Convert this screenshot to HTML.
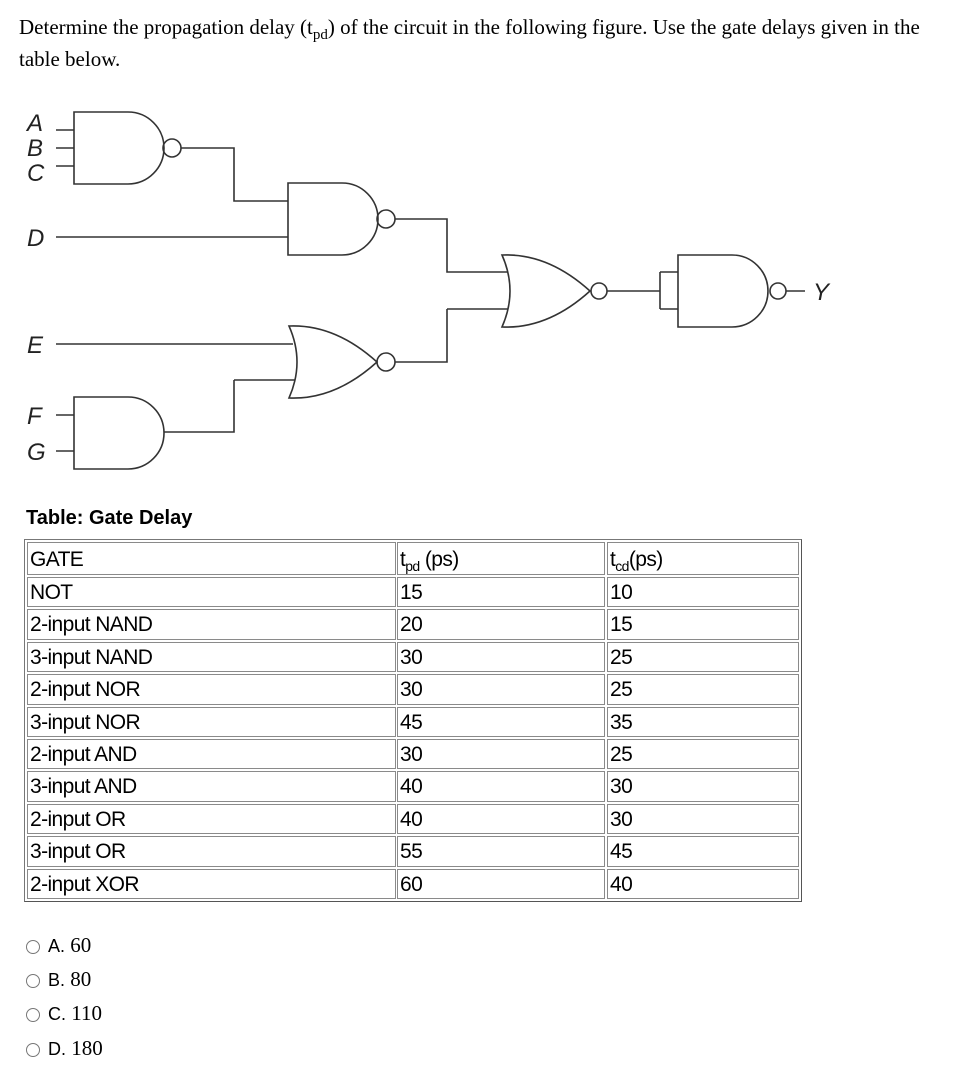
<!DOCTYPE html>
<html><head><meta charset="utf-8"><style>
body{margin:0;background:#fff;width:968px;height:1084px;position:relative;overflow:hidden}
.t{position:absolute;font-family:"Liberation Serif",serif;font-size:21px;color:#000;white-space:nowrap}
.c{position:absolute;border:1px solid #8a8a8a;box-sizing:border-box;font-family:"Liberation Sans",sans-serif;font-size:21px;color:#000;padding-left:2px;letter-spacing:-0.6px}
.r{position:absolute;width:14px;height:14px;border:1px solid #777;border-radius:50%;box-sizing:border-box}
.o{position:absolute;font-size:21px;white-space:nowrap}
.o span{font-family:"Liberation Sans",sans-serif;font-size:18px}
.o b{font-family:"Liberation Serif",serif;font-weight:normal}
</style></head><body>
<div class="t" style="left:19px;top:15px">Determine the propagation delay (t<sub style="font-size:15px">pd</sub>) of the circuit in the following figure. Use the gate delays given in the</div>
<div class="t" style="left:19px;top:47px">table below.</div>

<svg style="position:absolute;left:0;top:0" width="968" height="500" fill="none" stroke="#333" stroke-width="1.6">
<g font-family="Liberation Sans,sans-serif" font-style="italic" font-size="24" fill="#222" stroke="none">
<text x="27" y="131">A</text><text x="27" y="156">B</text><text x="27" y="181">C</text>
<text x="27" y="246">D</text><text x="27" y="353">E</text><text x="27" y="424">F</text><text x="27" y="460">G</text>
<text x="813" y="300">Y</text></g>
<path d="M74 112 H128 A36 36 0 0 1 128 184 H74 Z"/><circle cx="172" cy="148" r="9"/>
<path d="M56 130H74M56 148H74M56 166H74"/>
<path d="M181 148H234V201H288"/>
<path d="M56 237H288"/>
<path d="M288 183 H342 A36 36 0 0 1 342 255 H288 Z"/><circle cx="386" cy="219" r="9"/>
<path d="M395 219H447V272H508"/>
<path d="M502 255 Q548 253 590 291 Q548 329 502 327 Q518 291 502 255 Z"/><circle cx="599" cy="291" r="8"/>
<path d="M447 309H508"/>
<path d="M607 291H660M660 272V309M660 272H678M660 309H678"/>
<path d="M678 255 H732 A36 36 0 0 1 732 327 H678 Z"/><circle cx="778" cy="291" r="8"/>
<path d="M786 291H805"/>
<path d="M289 326 Q335 324 377 362 Q335 400 289 398 Q305 362 289 326 Z"/><circle cx="386" cy="362" r="9"/>
<path d="M395 362H447V309"/>
<path d="M56 344H293"/>
<path d="M234 380H295M234 380V432H164"/>
<path d="M74 397 H128 A36 36 0 0 1 128 469 H74 Z"/>
<path d="M56 415H74M56 451H74"/>
</svg>

<div style="position:absolute;left:26px;top:507px;font-family:'Liberation Sans',sans-serif;font-weight:bold;font-size:20px">Table: Gate Delay</div>
<div style="position:absolute;left:24px;top:539px;width:778px;height:363px;border:1px solid #777;border-right-color:#555;border-bottom-color:#555;box-sizing:border-box"></div>
<div id="tb"></div>
<script>
var rows=[["GATE","t<sub style='font-size:14px'>pd</sub> (ps)","t<sub style='font-size:14px'>cd</sub>(ps)"],["NOT","15","10"],["2-input NAND","20","15"],["3-input NAND","30","25"],["2-input NOR","30","25"],["3-input NOR","45","35"],["2-input AND","30","25"],["3-input AND","40","30"],["2-input OR","40","30"],["3-input OR","55","45"],["2-input XOR","60","40"]];
var xs=[[27,369],[397,208],[607,192]],h="";
for(var i=0;i<rows.length;i++){var y=i==0?542:577+(i-1)*32.4,hh=i==0?33:30.4;
for(var j=0;j<3;j++)h+='<div class="c" style="left:'+xs[j][0]+'px;top:'+y+'px;width:'+xs[j][1]+'px;height:'+hh+'px;line-height:'+(hh)+'px">'+rows[i][j]+'</div>';}
document.getElementById('tb').innerHTML=h;
</script>

<div class="r" style="left:26px;top:940px"></div><div class="o" style="left:48px;top:933px"><span>A.</span> <b>60</b></div>
<div class="r" style="left:26px;top:974px"></div><div class="o" style="left:48px;top:967px"><span>B.</span> <b>80</b></div>
<div class="r" style="left:26px;top:1008px"></div><div class="o" style="left:48px;top:1001px"><span>C.</span> <b>110</b></div>
<div class="r" style="left:26px;top:1043px"></div><div class="o" style="left:48px;top:1036px"><span>D.</span> <b>180</b></div>
</body></html>
